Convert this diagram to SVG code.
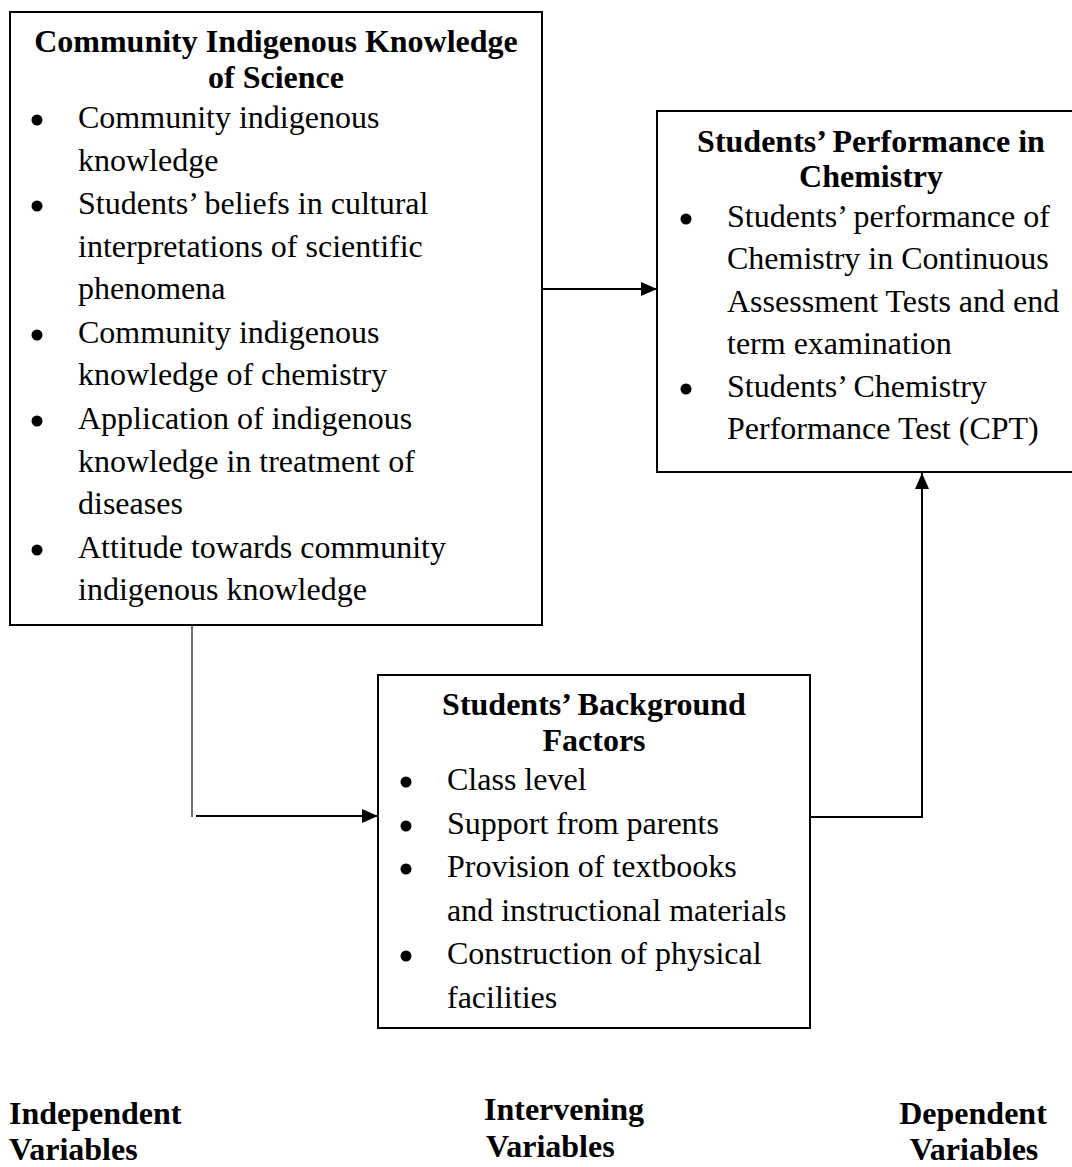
<svg xmlns="http://www.w3.org/2000/svg" width="1072" height="1167" viewBox="0 0 1072 1167">
<style>
  .box { fill: #ffffff; stroke: #000000; stroke-width: 2; }
  .t { font-family: "Liberation Serif", "Times New Roman", serif; font-size: 32px; fill: #000000; }
  .b { font-weight: bold; }
  .mid { text-anchor: middle; }
  .dot { fill: #000000; }
  .conn { fill: none; stroke: #000000; stroke-width: 2; }
  .thin { fill: none; stroke: #333333; stroke-width: 1.4; }
</style>
<defs>
  <marker id="arrow" markerUnits="userSpaceOnUse" markerWidth="16" markerHeight="14" refX="16" refY="7" orient="auto">
    <polygon points="0,0 16,7 0,14" fill="#000000"/>
  </marker>
</defs>
<rect width="1072" height="1167" fill="#ffffff"/>

<g id="connectors">
  <line class="conn" x1="542" y1="289" x2="657" y2="289" marker-end="url(#arrow)"/>
  <line class="thin" x1="192" y1="625" x2="192" y2="817"/>
  <line class="conn" x1="196" y1="816" x2="378" y2="816" marker-end="url(#arrow)"/>
  <polyline class="conn" points="810,817 922,817 922,473" marker-end="url(#arrow)"/>
</g>

<g id="node-indigenous">
  <rect class="box" x="10" y="12" width="532" height="613"/>
  <text class="t b mid" x="276" y="52">Community Indigenous Knowledge</text>
  <text class="t b mid" x="276" y="88">of Science</text>
  <circle class="dot" cx="37" cy="120" r="5.5"/>
  <text class="t" x="78" y="128">Community indigenous</text>
  <text class="t" x="78" y="171">knowledge</text>
  <circle class="dot" cx="37" cy="206" r="5.5"/>
  <text class="t" x="78" y="214">Students’ beliefs in cultural</text>
  <text class="t" x="78" y="257">interpretations of scientific</text>
  <text class="t" x="78" y="299">phenomena</text>
  <circle class="dot" cx="37" cy="335" r="5.5"/>
  <text class="t" x="78" y="343">Community indigenous</text>
  <text class="t" x="78" y="385">knowledge of chemistry</text>
  <circle class="dot" cx="37" cy="421" r="5.5"/>
  <text class="t" x="78" y="429">Application of indigenous</text>
  <text class="t" x="78" y="472">knowledge in treatment of</text>
  <text class="t" x="78" y="514">diseases</text>
  <circle class="dot" cx="37" cy="550" r="5.5"/>
  <text class="t" x="78" y="558">Attitude towards community</text>
  <text class="t" x="78" y="600">indigenous knowledge</text>
</g>

<g id="node-performance">
  <rect class="box" x="657" y="111" width="430" height="361"/>
  <text class="t b mid" x="871" y="152">Students’ Performance in</text>
  <text class="t b mid" x="871" y="187">Chemistry</text>
  <circle class="dot" cx="686" cy="219" r="5.5"/>
  <text class="t" x="727" y="227">Students’ performance of</text>
  <text class="t" x="727" y="269">Chemistry in Continuous</text>
  <text class="t" x="727" y="312">Assessment Tests and end</text>
  <text class="t" x="727" y="354">term examination</text>
  <circle class="dot" cx="686" cy="389" r="5.5"/>
  <text class="t" x="727" y="397">Students’ Chemistry</text>
  <text class="t" x="727" y="439">Performance Test (CPT)</text>
</g>

<g id="node-background">
  <rect class="box" x="378" y="675" width="432" height="353"/>
  <text class="t b mid" x="594" y="715">Students’ Background</text>
  <text class="t b mid" x="594" y="751">Factors</text>
  <circle class="dot" cx="406" cy="782" r="5.5"/>
  <text class="t" x="447" y="790">Class level</text>
  <circle class="dot" cx="406" cy="826" r="5.5"/>
  <text class="t" x="447" y="834">Support from parents</text>
  <circle class="dot" cx="406" cy="869" r="5.5"/>
  <text class="t" x="447" y="877">Provision of textbooks</text>
  <text class="t" x="447" y="921">and instructional materials</text>
  <circle class="dot" cx="406" cy="956" r="5.5"/>
  <text class="t" x="447" y="964">Construction of physical</text>
  <text class="t" x="447" y="1008">facilities</text>
</g>

<g id="label-independent">
  <text class="t b" x="9" y="1124">Independent</text>
  <text class="t b" x="9" y="1160">Variables</text>
</g>
<g id="label-intervening">
  <text class="t b" x="484" y="1120">Intervening</text>
  <text class="t b" x="486" y="1157">Variables</text>
</g>
<g id="label-dependent">
  <text class="t b mid" x="973" y="1124">Dependent</text>
  <text class="t b mid" x="974" y="1160">Variables</text>
</g>
</svg>
